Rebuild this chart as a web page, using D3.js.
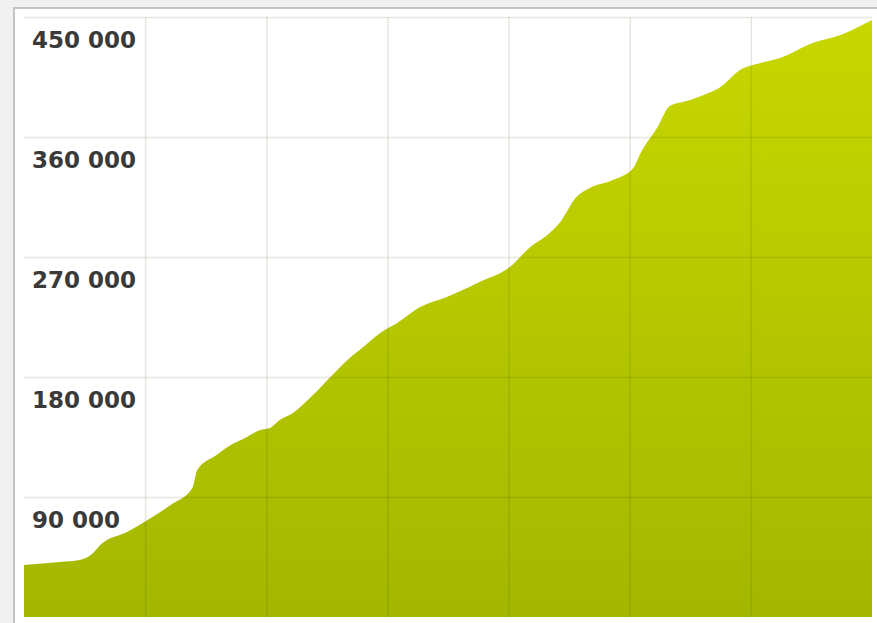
<!DOCTYPE html>
<html>
<head>
<meta charset="utf-8">
<script src="https://cdn.jsdelivr.net/npm/d3@7"></script>
<style>
  html, body { margin: 0; padding: 0; background: #f1f1f1; }
  svg { display: block; }
</style>
</head>
<body>
<svg id="chart"></svg>
<script>
// position along the x range (7 grid columns) and the cumulative value
const periods = [0, 0.30, 0.46, 0.57, 0.63, 0.85, 1.02, 1.21, 1.39, 1.43, 1.59, 1.68, 1.84, 1.95,
  2.03, 2.11, 2.22, 2.36, 2.53, 2.67, 2.80, 2.94, 3.08, 3.27, 3.49, 3.76, 4.01, 4.18, 4.32,
  4.42, 4.56, 4.67, 4.86, 5.03, 5.09, 5.23, 5.33, 5.50, 5.61, 5.75, 5.91, 6.08, 6.24, 6.51,
  6.74, 7.00];
const values = [39000, 41250, 42750, 48000, 54000, 63750, 72750, 84000, 96750, 110250, 121500,
  127500, 135000, 140250, 141750, 147750, 153000, 164250, 180000, 192750, 202500, 213000,
  220500, 232500, 240000, 251250, 262500, 277500, 286500, 295500, 315000, 321750, 327750,
  336750, 348000, 367500, 383250, 387750, 391500, 397500, 410250, 415500, 419250, 430500,
  436500, 447750];
const yTicks = [90000, 180000, 270000, 360000, 450000];
const xTicks = [1, 2, 3, 4, 5, 6];

const W = 877, H = 623;
const margin = { top: 17, right: 5, bottom: 6, left: 24 },
  width = W - margin.left - margin.right,
  height = H - margin.top - margin.bottom;

const svg = d3.select("#chart")
  .attr("width", W)
  .attr("height", H);

// white panel with grey frame
svg.append("rect")
  .attr("x", 14).attr("y", 8)
  .attr("width", W + 20).attr("height", H + 20)
  .attr("fill", "#fff")
  .attr("stroke", "#c4c4c4")
  .attr("stroke-width", 2);

const defs = svg.append("defs");
const grad = defs.append("linearGradient")
  .attr("id", "fillGrad")
  .attr("x1", 0).attr("y1", 0).attr("x2", 0).attr("y2", 1);
grad.append("stop").attr("offset", "0%").attr("stop-color", "#c8d700");
grad.append("stop").attr("offset", "100%").attr("stop-color", "#a3b700");

const g = svg.append("g")
  .attr("transform", `translate(${margin.left},${margin.top})`);

const x = d3.scaleLinear().domain([0, 7]).range([0, width]);
const y = d3.scaleLinear().domain([0, 450000]).range([height, 0]);

const data = periods.map((p, i) => ({ p, v: values[i] }));

const area = d3.area()
  .x(d => x(d.p))
  .y0(height)
  .y1(d => y(d.v))
  .curve(d3.curveMonotoneX);

g.append("path")
  .datum(data)
  .attr("fill", "url(#fillGrad)")
  .attr("d", area);

// grid drawn on top so it darkens the green
g.append("g")
  .call(d3.axisLeft(y).tickValues(yTicks).tickSize(-width).tickFormat(""))
  .call(s => s.select(".domain").remove())
  .selectAll("line")
  .attr("stroke", "rgba(60,70,0,0.13)")
  .attr("stroke-width", 1.5);

g.append("g")
  .attr("transform", `translate(0,${height})`)
  .call(d3.axisBottom(x).tickValues(xTicks).tickSize(-height).tickFormat(""))
  .call(s => s.select(".domain").remove())
  .selectAll("line")
  .attr("stroke", "rgba(60,70,0,0.13)")
  .attr("stroke-width", 1.5);

// value labels sit just under their grid line
g.selectAll(".ylabel")
  .data(yTicks)
  .enter()
  .append("text")
  .attr("class", "ylabel")
  .attr("x", 8)
  .attr("y", d => y(d) + 31)
  .attr("font-family", "DejaVu Sans")
  .attr("font-weight", "bold")
  .attr("font-size", 23)
  .attr("fill", "#3a3a3a")
  .text(d => d3.format(",")(d).replace(/,/g, " "));
</script>
</body>
</html>
